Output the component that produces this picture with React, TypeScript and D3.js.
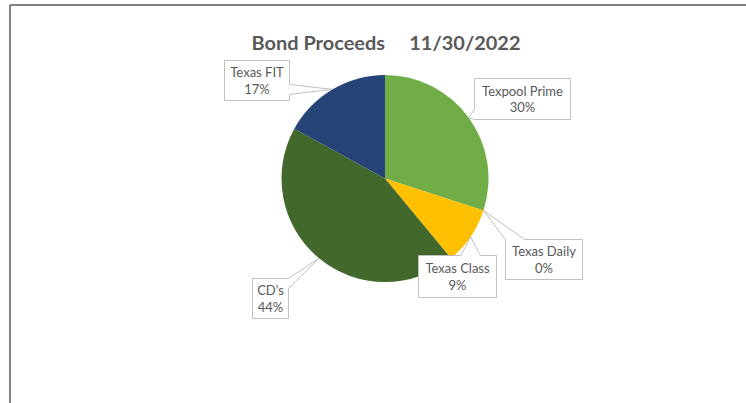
import React from "react";
import * as d3 from "d3";

const categories = ["Texpool Prime", "Texas Daily", "Texas Class", "CD's", "Texas FIT"];
const values = [30, 0, 9, 44, 17];
const percentLabels = ["30%", "0%", "9%", "44%", "17%"];
const colors = ["#70AD47", "#5B9BD5", "#FFC000", "#43682B", "#264478"];
const titleText = "Bond Proceeds     11/30/2022";

// label layout: box centre offset from the slice anchor point, and box size
const labelLayout = [
  { dx: 53.3, dy: -19.2, w: 96, h: 41 },
  { dx: 60.1, dy: 48.5, w: 77, h: 40 },
  { dx: -13.6, dy: 39.3, w: 78, h: 42 },
  { dx: -49, dy: 39.8, w: 36, h: 40 },
  { dx: -75.8, dy: -9.4, w: 65, h: 40 },
];

const W = 746;
const H = 403;
const cx = 385;
const cy = 178.5;
const R = 103.5;

function calloutPath(x0: number, y0: number, x1: number, y1: number, ax: number, ay: number) {
  const w = x1 - x0;
  const h = y1 - y0;
  const mx = (x0 + x1) / 2;
  const my = (y0 + y1) / 2;
  const nx = (ax - mx) / (w / 2);
  const ny = (ay - my) / (h / 2);
  let side: string;
  if (Math.abs(nx) <= 1 && Math.abs(ny) <= 1) side = "none";
  else if (Math.abs(nx) > Math.abs(ny)) side = nx > 0 ? "right" : "left";
  else side = ny > 0 ? "bottom" : "top";
  const clampBase = (p: number, s: number, e: number) => {
    const bw = (e - s) * 0.25;
    const c = Math.max(s + bw / 2, Math.min(e - bw / 2, p));
    return [c - bw / 2, c + bw / 2];
  };
  const pts: [number, number][] = [];
  pts.push([x0, y0]);
  if (side === "top") {
    const [b1, b2] = clampBase(ax, x0, x1);
    pts.push([b1, y0], [ax, ay], [b2, y0]);
  }
  pts.push([x1, y0]);
  if (side === "right") {
    const [b1, b2] = clampBase(ay, y0, y1);
    pts.push([x1, b1], [ax, ay], [x1, b2]);
  }
  pts.push([x1, y1]);
  if (side === "bottom") {
    const [b1, b2] = clampBase(ax, x0, x1);
    pts.push([b2, y1], [ax, ay], [b1, y1]);
  }
  pts.push([x0, y1]);
  if (side === "left") {
    const [b1, b2] = clampBase(ay, y0, y1);
    pts.push([x0, b2], [ax, ay], [x0, b1]);
  }
  return "M" + pts.map((p) => p[0] + "," + p[1]).join("L") + "Z";
}

export default function App() {
  const data = categories.map((c, i) => ({ name: c, value: values[i], pct: percentLabels[i], color: colors[i], layout: labelLayout[i] }));
  const pie = d3.pie<any>().sort(null).value((d: any) => d.value);
  const arcs = pie(data);
  const arc = d3.arc<any>().innerRadius(0).outerRadius(R);
  const edge = d3.arc<any>().innerRadius(R).outerRadius(R);

  return (
    <svg width={W} height={H} style={{ position: "absolute", left: 0, top: 0, background: "#fff" }}>
      <rect x={0} y={0} width={W} height={H} fill="#fff" />
      <line x1={10} y1={5} x2={W} y2={5} stroke="#595959" strokeWidth={1.5} />
      <line x1={10} y1={5} x2={10} y2={H} stroke="#595959" strokeWidth={1.5} />
      <text
        x={386}
        y={50}
        textAnchor="middle"
        fontFamily="Lato, 'Open Sans', sans-serif"
        fontWeight="bold"
        fontSize={18}
        fill="#595959"
        textLength={269}
        lengthAdjust="spacingAndGlyphs"
        style={{ whiteSpace: "pre" }}
      >
        {titleText}
      </text>
      <g transform={`translate(${cx},${cy})`}>
        {arcs.map((a, i) => (
          <path key={i} d={arc(a) as string} fill={a.data.color} />
        ))}
      </g>
      {arcs.map((a, i) => {
        const [px, py] = edge.centroid(a);
        const ax = cx + px;
        const ay = cy + py;
        const L = a.data.layout;
        const bx = ax + L.dx;
        const by = ay + L.dy;
        const x0 = Math.round(bx - L.w / 2) + 0.5;
        const y0 = Math.round(by - L.h / 2) + 0.5;
        const x1 = x0 + L.w;
        const y1 = y0 + L.h;
        const my = (y0 + y1) / 2;
        return (
          <g key={"l" + i}>
            <path d={calloutPath(x0, y0, x1, y1, ax, ay)} fill="#fff" stroke="#BFBFBF" strokeWidth={1} />
            <text
              x={(x0 + x1) / 2}
              textAnchor="middle"
              fontFamily="Lato, 'Open Sans', sans-serif"
              fontSize={13}
              fill="#595959"
            >
              <tspan x={(x0 + x1) / 2} y={my - 3.5}>{a.data.name}</tspan>
              <tspan x={(x0 + x1) / 2} y={my + 13}>{a.data.pct}</tspan>
            </text>
          </g>
        );
      })}
    </svg>
  );
}
